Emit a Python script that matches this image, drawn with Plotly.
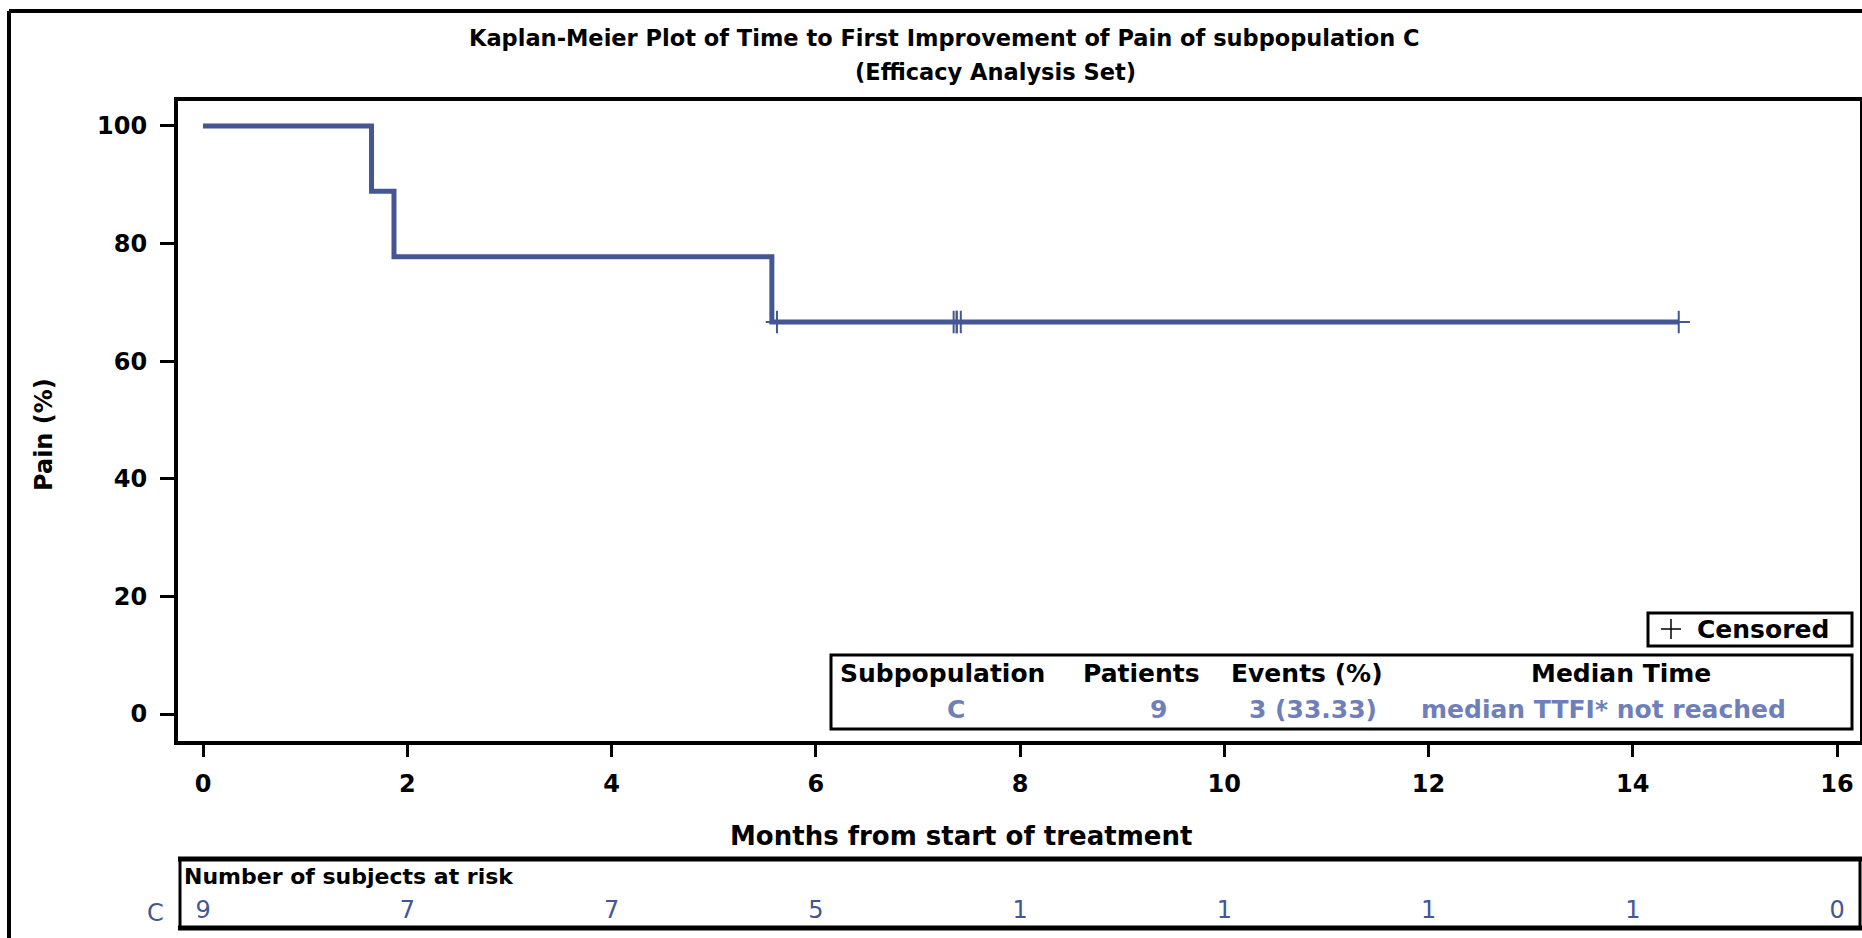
import plotly.graph_objects as go

# Kaplan-Meier estimate (percent) at each step, subpopulation C
step_months = [0, 1.65, 1.87, 5.57, 14.45]
step_pct = [100, 88.89, 77.78, 66.67, 66.67]

# censored observations
censor_months = [5.62, 7.35, 7.38, 7.38, 7.42, 14.45]
censor_pct = [66.67, 66.67, 66.67, 66.67, 66.67, 66.67]

# number at risk table
risk_months = [0, 2, 4, 6, 8, 10, 12, 14, 16]
risk_counts = [9, 7, 7, 5, 1, 1, 1, 1, 0]

# summary statistics table
stat_headers = ["Subpopulation", "Patients", "Events (%)", "Median Time"]
stat_values = ["C", "9", "3 (33.33)", "median TTFI* not reached"]

y_ticks = [0, 20, 40, 60, 80, 100]
x_ticks = [0, 2, 4, 6, 8, 10, 12, 14, 16]

BLUE = "#445694"
LIGHT_BLUE = "#6f7fba"
FONT = "DejaVu Sans"

W, H = 1862, 938
ML, MR, MT, MB = 178, 2, 101, 8
PW = W - ML - MR
PH = H - MT - MB


def px(x):
    return (x - ML) / PW


def py(y):
    return (H - MB - y) / PH


main_bottom = py(741)
risk_top = py(857)

fig = go.Figure()

fig.add_trace(go.Scatter(
    x=step_months, y=step_pct, mode="lines",
    line=dict(color=BLUE, width=5, shape="hv"),
    showlegend=False, hoverinfo="skip",
))
fig.add_trace(go.Scatter(
    x=censor_months, y=censor_pct, mode="markers",
    marker=dict(symbol="cross-thin", size=16, color=BLUE,
                line=dict(color=BLUE, width=2)),
    name="Censored", showlegend=False,
))

# at-risk counts on a strip that shares the month scale
fig.add_trace(go.Scatter(
    x=risk_months, y=[0.24] * len(risk_months), mode="text",
    text=[str(v) for v in risk_counts],
    textfont=dict(family=FONT, size=24, color=BLUE),
    textposition="middle center",
    xaxis="x2", yaxis="y2", showlegend=False, hoverinfo="skip",
    cliponaxis=False,
))

axis_common = dict(showgrid=False, zeroline=False, showline=True,
                   linecolor="black", mirror=True, ticks="outside",
                   tickcolor="black", automargin=False)

fig.update_layout(
    template="none",
    width=W, height=H,
    margin=dict(l=ML, r=MR, t=MT, b=MB, pad=0, autoexpand=False),
    plot_bgcolor="white", paper_bgcolor="white",
    font=dict(family=FONT, color="black"),
    showlegend=False,
    xaxis=dict(**axis_common, domain=[0, 1], anchor="y",
               range=[-0.245, 16.225], tickvals=x_ticks,
               ticklen=12, tickwidth=3, linewidth=4,
               tickfont=dict(family=FONT, size=24, weight="bold"),
               ticklabelstandoff=6),
    yaxis=dict(**axis_common, domain=[main_bottom, 1], anchor="x",
               range=[-4.59, 104.25], tickvals=y_ticks,
               ticklen=14, tickwidth=3, linewidth=4,
               tickfont=dict(family=FONT, size=24, weight="bold"),
               ticklabelstandoff=8),
    xaxis2=dict(domain=[0, 1], anchor="y2", matches="x", visible=False,
                range=[-0.245, 16.225], automargin=False),
    yaxis2=dict(domain=[0, risk_top], anchor="x2", range=[0, 1],
                visible=False, automargin=False),
)

shapes = []
# outer frame (left and top edges)
shapes.append(dict(type="line", xref="paper", yref="paper",
                   x0=px(9), x1=px(W + 5), y0=py(11), y1=py(11),
                   line=dict(color="black", width=4)))
shapes.append(dict(type="line", xref="paper", yref="paper",
                   x0=px(9), x1=px(9), y0=py(11), y1=py(H + 5),
                   line=dict(color="black", width=4)))
# censored legend box with its plus sign
shapes.append(dict(type="rect", xref="paper", yref="paper",
                   x0=px(1648), x1=px(1852), y0=py(613), y1=py(646),
                   line=dict(color="black", width=3), fillcolor="white",
                   layer="above"))
shapes.append(dict(type="line", xref="paper", yref="paper",
                   x0=px(1661), x1=px(1681), y0=py(629), y1=py(629),
                   line=dict(color="black", width=1.5), layer="above"))
shapes.append(dict(type="line", xref="paper", yref="paper",
                   x0=px(1671), x1=px(1671), y0=py(619), y1=py(639),
                   line=dict(color="black", width=1.5), layer="above"))
# statistics table box
shapes.append(dict(type="rect", xref="paper", yref="paper",
                   x0=px(831), x1=px(1852), y0=py(655), y1=py(729),
                   line=dict(color="black", width=3), fillcolor="white",
                   layer="above"))
# risk table box
shapes.append(dict(type="rect", xref="paper", yref="paper",
                   x0=px(180), x1=px(1860), y0=py(859), y1=py(928),
                   line=dict(color="black", width=3)))
shapes.append(dict(type="line", xref="paper", yref="paper",
                   x0=px(178), x1=px(1862), y0=py(859), y1=py(859),
                   line=dict(color="black", width=5)))
shapes.append(dict(type="line", xref="paper", yref="paper",
                   x0=px(178), x1=px(1862), y0=py(928), y1=py(928),
                   line=dict(color="black", width=5)))
fig.update_layout(shapes=shapes)

ann = []
ann.append(dict(text="Kaplan-Meier Plot of Time to First Improvement of Pain of subpopulation C",
                x=px(944), y=py(38), xref="paper", yref="paper",
                showarrow=False, xanchor="center", yanchor="middle",
                font=dict(family=FONT, size=22.5, weight="bold")))
ann.append(dict(text="(Efficacy Analysis Set)",
                x=px(995), y=py(72), xref="paper", yref="paper",
                showarrow=False, xanchor="center", yanchor="middle",
                font=dict(family=FONT, size=22.5, weight="bold")))
ann.append(dict(text="Pain (%)", textangle=-90,
                x=px(44), y=py(435), xref="paper", yref="paper",
                showarrow=False, xanchor="center", yanchor="middle",
                font=dict(family=FONT, size=24, weight="bold")))
ann.append(dict(text="Months from start of treatment",
                x=px(961), y=py(836), xref="paper", yref="paper",
                showarrow=False, xanchor="center", yanchor="middle",
                font=dict(family=FONT, size=26, weight="bold")))
ann.append(dict(text="Censored", x=px(1695), y=py(629),
                xref="paper", yref="paper", showarrow=False,
                xanchor="left", yanchor="middle",
                font=dict(family=FONT, size=25, weight="bold")))

header_x = [942, 1141, 1307, 1621]
value_x = [956, 1158, 1313, 1603]
for hx, vx, h, v in zip(header_x, value_x, stat_headers, stat_values):
    ann.append(dict(text=h, x=px(hx), y=py(673), xref="paper", yref="paper",
                    showarrow=False, xanchor="center", yanchor="middle",
                    font=dict(family=FONT, size=25, weight="bold")))
    ann.append(dict(text=v, x=px(vx), y=py(709), xref="paper", yref="paper",
                    showarrow=False, xanchor="center", yanchor="middle",
                    font=dict(family=FONT, size=25, weight="bold",
                              color=LIGHT_BLUE)))

ann.append(dict(text="Number of subjects at risk", x=px(182), y=py(876),
                xref="paper", yref="paper", showarrow=False,
                xanchor="left", yanchor="middle",
                font=dict(family=FONT, size=22, weight="bold")))
ann.append(dict(text="C", x=px(155), y=py(913), xref="paper", yref="paper",
                showarrow=False, xanchor="center", yanchor="middle",
                font=dict(family=FONT, size=24, color=BLUE)))
fig.update_layout(annotations=ann)

fig.write_html("out.html")
